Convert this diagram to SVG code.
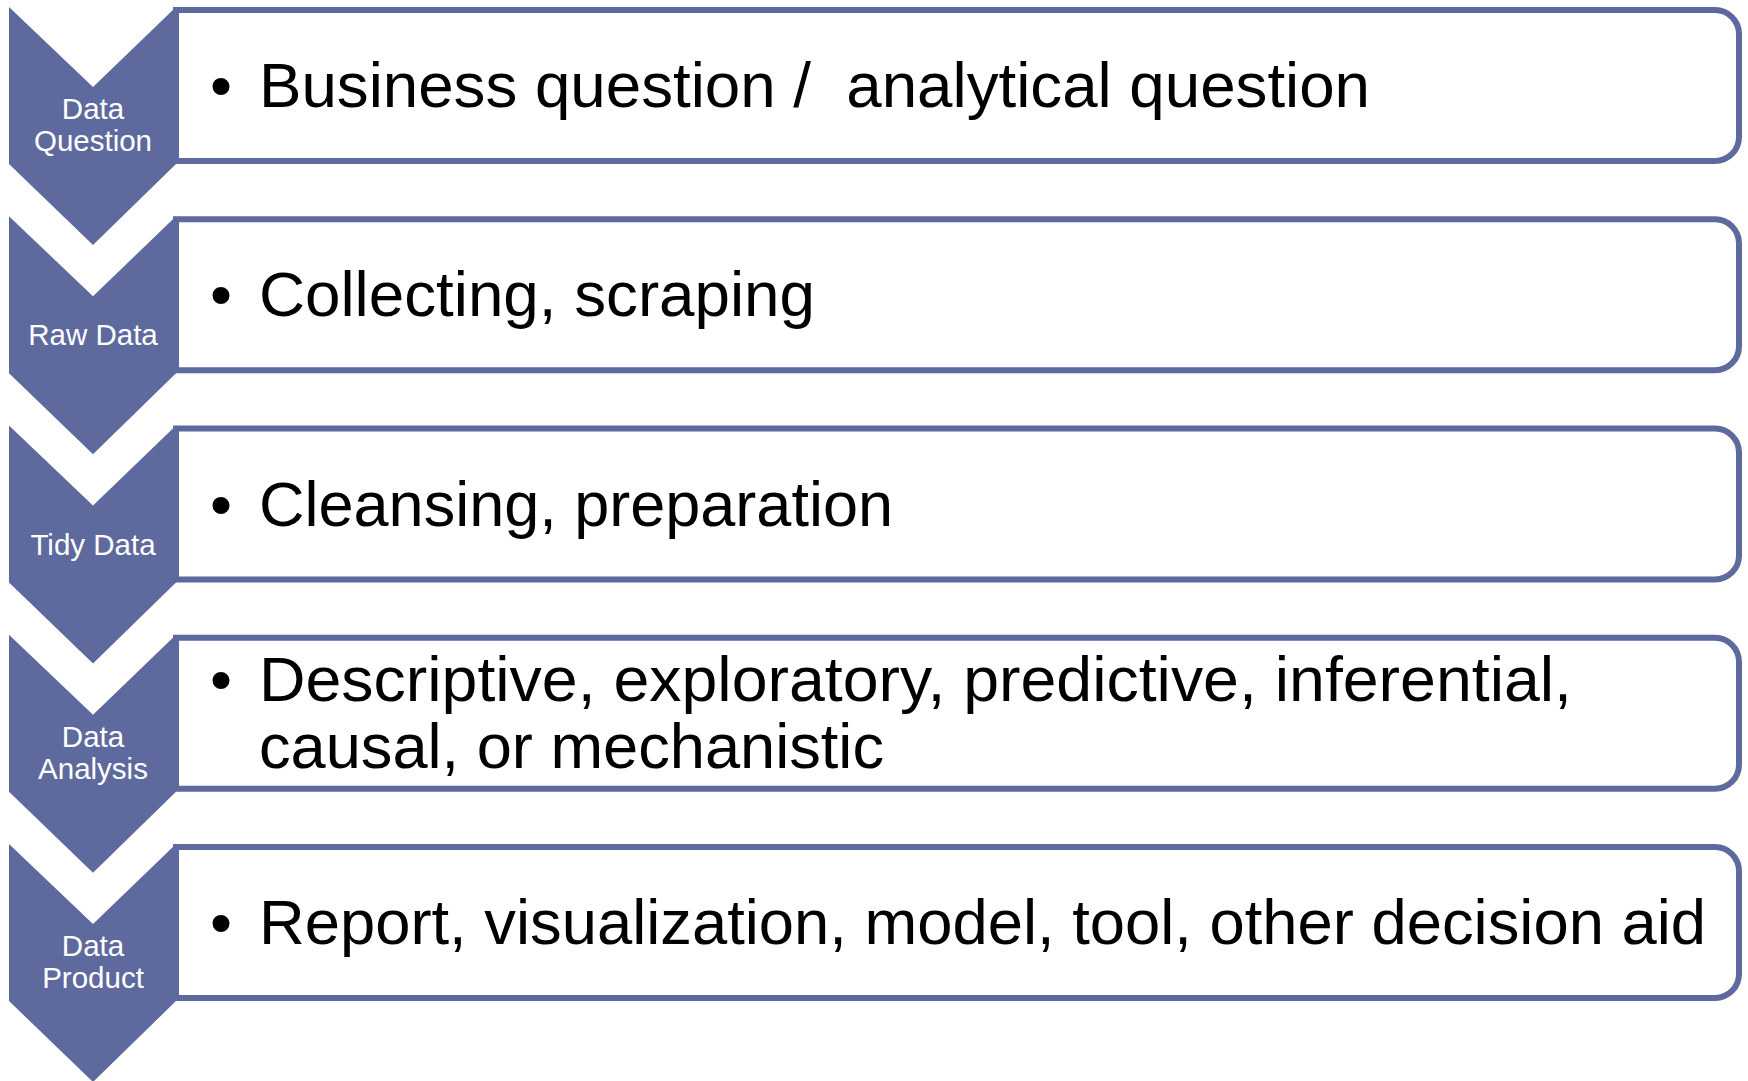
<svg xmlns="http://www.w3.org/2000/svg" width="1748" height="1081" viewBox="0 0 1748 1081">
<style>
.chev{fill:#5e6a9e;}
.box{fill:#ffffff;stroke:#5e6a9e;stroke-width:6;}
.lbl{font-family:"Liberation Sans",Arial,sans-serif;font-size:29.5px;fill:#ffffff;text-anchor:middle;}
.main{font-family:"Liberation Sans",Arial,sans-serif;font-size:63px;fill:#000000;}
</style>
<defs>
<polygon id="chevShape" points="9,0 93,80 176,0 176,157 93,238 9,157"/>
<path id="boxShape" d="M176,3 H1715 A24,24 0 0 1 1739,27 V130 A24,24 0 0 1 1715,154 H176 Z"/>
</defs>
<rect width="1748" height="1081" fill="#ffffff"/>
<g id="connectors"></g>
<g id="step1" transform="translate(0,7)">
<use href="#boxShape" class="box"/>
<use href="#chevShape" class="chev"/>
<text class="lbl" x="93" y="112">Data</text>
<text class="lbl" x="93" y="144">Question</text>
<text class="main" x="210" y="100">•</text>
<text class="main" x="259" y="100" textLength="1111" lengthAdjust="spacingAndGlyphs" xml:space="preserve">Business question /  analytical question</text>
</g>
<g id="step2" transform="translate(0,216.25)">
<use href="#boxShape" class="box"/>
<use href="#chevShape" class="chev"/>
<text class="lbl" x="93" y="129">Raw Data</text>
<text class="main" x="210" y="100">•</text>
<text class="main" x="259" y="100" textLength="556" lengthAdjust="spacingAndGlyphs">Collecting, scraping</text>
</g>
<g id="step3" transform="translate(0,425.5)">
<use href="#boxShape" class="box"/>
<use href="#chevShape" class="chev"/>
<text class="lbl" x="93" y="129">Tidy Data</text>
<text class="main" x="210" y="100">•</text>
<text class="main" x="259" y="100" textLength="634" lengthAdjust="spacingAndGlyphs">Cleansing, preparation</text>
</g>
<g id="step4" transform="translate(0,634.75)">
<use href="#boxShape" class="box"/>
<use href="#chevShape" class="chev"/>
<text class="lbl" x="93" y="112">Data</text>
<text class="lbl" x="93" y="144">Analysis</text>
<text class="main" x="210" y="66">•</text>
<text class="main" x="259" y="66" textLength="1313" lengthAdjust="spacingAndGlyphs">Descriptive, exploratory, predictive, inferential,</text>
<text class="main" x="259" y="133" textLength="625" lengthAdjust="spacingAndGlyphs">causal, or mechanistic</text>
</g>
<g id="step5" transform="translate(0,844)">
<use href="#boxShape" class="box"/>
<use href="#chevShape" class="chev"/>
<text class="lbl" x="93" y="112">Data</text>
<text class="lbl" x="93" y="144">Product</text>
<text class="main" x="210" y="100">•</text>
<text class="main" x="259" y="100" textLength="1447" lengthAdjust="spacingAndGlyphs">Report, visualization, model, tool, other decision aid</text>
</g>
</svg>
